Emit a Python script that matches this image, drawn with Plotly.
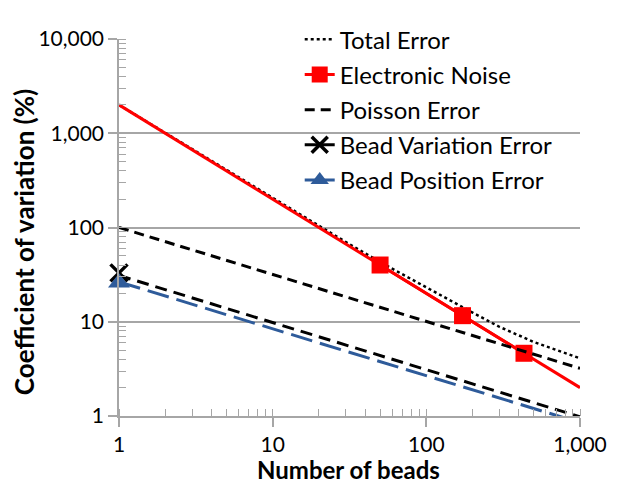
import plotly.graph_objects as go

# ---- data ----
line_x = [1, 1000]
electronic_noise = [2000, 2.0]
poisson_error = [100, 3.2]
bead_variation = [31, 0.98]
bead_position = [26.5, 0.85]

en_marker_x = [50, 172, 432]
en_marker_y = [40, 11.6, 4.63]

total_x = [1, 10, 30, 50, 100, 200, 300, 500, 1000]
total_y = [2000, 205, 70, 43, 23, 12.5, 8.8, 6.1, 4.1]

start_x = [1]
bead_variation_start = [33]
bead_position_start = [26]

y_ticks = [1, 10, 100, 1000, 10000]
y_ticktext = ["1", "10", "100", "1,000", "10,000"]
x_ticks = [1, 10, 100, 1000]
x_ticktext = ["1", "10", "100", "1,000"]

RED = "#ff0000"
BLUE = "#2e5b9a"
BLACK = "#000000"
GRAY = "#a6a6a6"
FONT = "Lato, 'Liberation Sans', sans-serif"

fig = go.Figure()

# Total error (dotted)
fig.add_trace(go.Scatter(x=total_x, y=total_y, mode="lines", name="Total Error",
                         legendgroup="g1",
                         line=dict(color=BLACK, width=2.5, dash="3px,3px")))
# Electronic noise line + markers
fig.add_trace(go.Scatter(x=line_x, y=electronic_noise, mode="lines", showlegend=False,
                         legendgroup="g2", line=dict(color=RED, width=3)))
fig.add_trace(go.Scatter(x=en_marker_x, y=en_marker_y, mode="lines+markers",
                         name="Electronic Noise", legendgroup="g2",
                         line=dict(color=RED, width=3),
                         marker=dict(symbol="square", size=17, color=RED)))
# Poisson error
fig.add_trace(go.Scatter(x=line_x, y=poisson_error, mode="lines", name="Poisson Error",
                         legendgroup="g3",
                         line=dict(color=BLACK, width=3, dash="10px,6px")))
# Bead variation
fig.add_trace(go.Scatter(x=line_x, y=bead_variation, mode="lines", showlegend=False,
                         legendgroup="g4",
                         line=dict(color=BLACK, width=3, dash="12px,7px")))
fig.add_trace(go.Scatter(x=start_x, y=bead_variation_start, mode="lines+markers",
                         name="Bead Variation Error", legendgroup="g4", cliponaxis=False,
                         line=dict(color=BLACK, width=3),
                         marker=dict(symbol="x-thin", size=17,
                                     line=dict(color=BLACK, width=3.5))))
# Bead position
fig.add_trace(go.Scatter(x=line_x, y=bead_position, mode="lines", showlegend=False,
                         legendgroup="g5",
                         line=dict(color=BLUE, width=3, dash="22px,8px")))
fig.add_trace(go.Scatter(x=start_x, y=bead_position_start, mode="lines+markers",
                         name="Bead Position Error", legendgroup="g5", cliponaxis=False,
                         line=dict(color=BLUE, width=3),
                         marker=dict(symbol="triangle-up", size=19, color=BLUE)))

axis_common = dict(
    type="log",
    showline=True, linecolor=GRAY, linewidth=1.5,
    ticks="outside", ticklen=9, tickcolor=GRAY, tickwidth=1.5,
    tickfont=dict(family=FONT, size=21, color=BLACK),
    zeroline=False,
    minor=dict(ticks="inside", ticklen=7, tickcolor=GRAY, tickwidth=1, dtick="D1",
               showgrid=False),
)

fig.update_xaxes(**axis_common, range=[0, 3], showgrid=False,
                 tickmode="array", tickvals=x_ticks, ticktext=x_ticktext)
fig.update_yaxes(**axis_common, range=[0, 4], showgrid=True, gridcolor=GRAY, gridwidth=1.5,
                 tickmode="array", tickvals=y_ticks, ticktext=y_ticktext)

fig.add_annotation(text="<b>Number of beads</b>", xref="paper", yref="paper",
                   x=0.498, y=-0.143, xanchor="center", yanchor="middle", showarrow=False,
                   font=dict(family=FONT, size=24, color=BLACK))
fig.add_annotation(text="<b>Coefficient of variation (%)</b>", xref="paper", yref="paper",
                   x=-0.207, y=0.46, xanchor="center", yanchor="middle", showarrow=False,
                   textangle=-90, font=dict(family=FONT, size=26, color=BLACK))

fig.update_layout(
    width=608, height=478,
    margin=dict(l=111, r=29, t=9, b=70),
    paper_bgcolor="white", plot_bgcolor="white",
    font=dict(family=FONT, size=20, color=BLACK),
    legend=dict(x=0.392, y=1.058, xanchor="left", yanchor="top",
                bgcolor="rgba(0,0,0,0)", traceorder="grouped", tracegroupgap=1,
                font=dict(family=FONT, size=24, color=BLACK)),
)

fig.write_html("out.html")
